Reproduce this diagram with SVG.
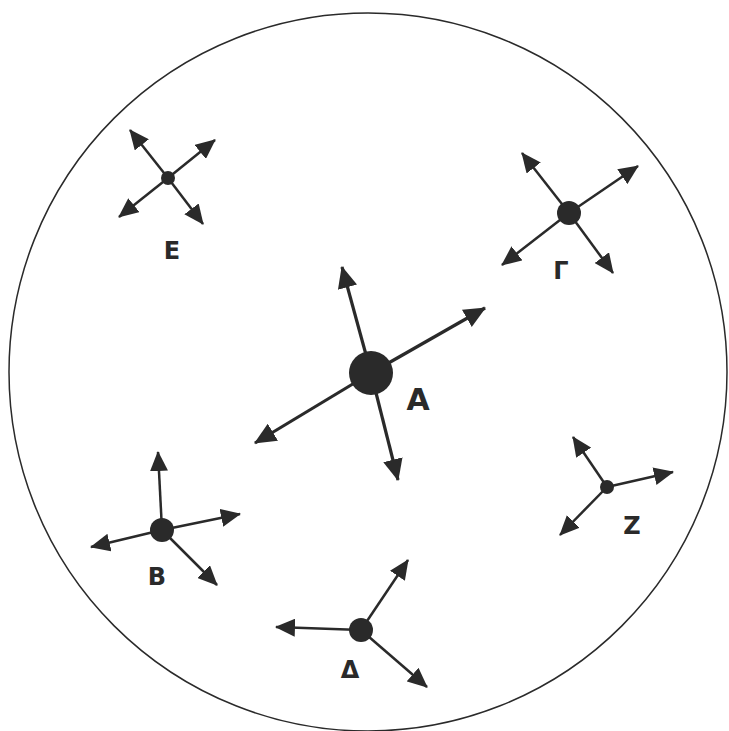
<svg xmlns="http://www.w3.org/2000/svg" width="729" height="731" viewBox="0 0 729 731">
<defs>
<marker id="ah" viewBox="0 0 20 18" refX="19" refY="9" markerWidth="22" markerHeight="20" markerUnits="userSpaceOnUse" orient="auto"><path d="M0,0 L20,9 L0,18 z" fill="#2a2a2a"/></marker>
<marker id="ahs" viewBox="0 0 20 18" refX="19" refY="9" markerWidth="20" markerHeight="18" markerUnits="userSpaceOnUse" orient="auto"><path d="M0,0 L20,9 L0,18 z" fill="#2a2a2a"/></marker>
</defs>
<style>
.c{stroke:#2a2a2a;stroke-width:2.5;fill:none;marker-end:url(#ahs)}
.cA{stroke:#2a2a2a;stroke-width:3.2;fill:none;marker-end:url(#ah)}
.n{fill:#2a2a2a}
.t{font-family:"DejaVu Sans","Liberation Sans",sans-serif;font-weight:bold;fill:#2a2a2a;text-anchor:middle}
</style>
<rect width="729" height="731" fill="#ffffff"/>
<circle cx="368" cy="372" r="359" fill="none" stroke="#2a2a2a" stroke-width="1.5"/>
<g id="connectors">
<line class="c" x1="168" y1="178" x2="130" y2="130"/>
<line class="c" x1="168" y1="178" x2="215" y2="140"/>
<line class="c" x1="168" y1="178" x2="119" y2="217"/>
<line class="c" x1="168" y1="178" x2="203" y2="224"/>
<line class="c" x1="569" y1="213" x2="522" y2="153"/>
<line class="c" x1="569" y1="213" x2="638" y2="166"/>
<line class="c" x1="569" y1="213" x2="502" y2="265"/>
<line class="c" x1="569" y1="213" x2="613" y2="273"/>
<line class="cA" x1="371" y1="373" x2="342" y2="267"/>
<line class="cA" x1="371" y1="373" x2="485" y2="308"/>
<line class="cA" x1="371" y1="373" x2="255" y2="443"/>
<line class="cA" x1="371" y1="373" x2="398" y2="480"/>
<line class="c" x1="162" y1="530" x2="158" y2="452"/>
<line class="c" x1="162" y1="530" x2="240" y2="514"/>
<line class="c" x1="162" y1="530" x2="91" y2="547"/>
<line class="c" x1="162" y1="530" x2="217" y2="585"/>
<line class="c" x1="361" y1="630" x2="408" y2="560"/>
<line class="c" x1="361" y1="630" x2="276" y2="627"/>
<line class="c" x1="361" y1="630" x2="427" y2="687"/>
<line class="c" x1="607" y1="487" x2="573" y2="437"/>
<line class="c" x1="607" y1="487" x2="673" y2="472"/>
<line class="c" x1="607" y1="487" x2="560" y2="535"/>
</g>
<g id="node-E"><circle class="n" cx="168" cy="178" r="7"/><text class="t" x="172" y="259" font-size="24">E</text></g>
<g id="node-G"><circle class="n" cx="569" cy="213" r="12"/><text class="t" x="561" y="279" font-size="24">Γ</text></g>
<g id="node-A"><circle class="n" cx="371" cy="373" r="22"/><text class="t" x="418" y="410" font-size="30">A</text></g>
<g id="node-B"><circle class="n" cx="162" cy="530" r="12"/><text class="t" x="157" y="585" font-size="24">B</text></g>
<g id="node-D"><circle class="n" cx="361" cy="630" r="12"/><text class="t" x="350" y="678" font-size="24">Δ</text></g>
<g id="node-Z"><circle class="n" cx="607" cy="487" r="7"/><text class="t" x="632" y="534" font-size="24">Z</text></g>
</svg>
